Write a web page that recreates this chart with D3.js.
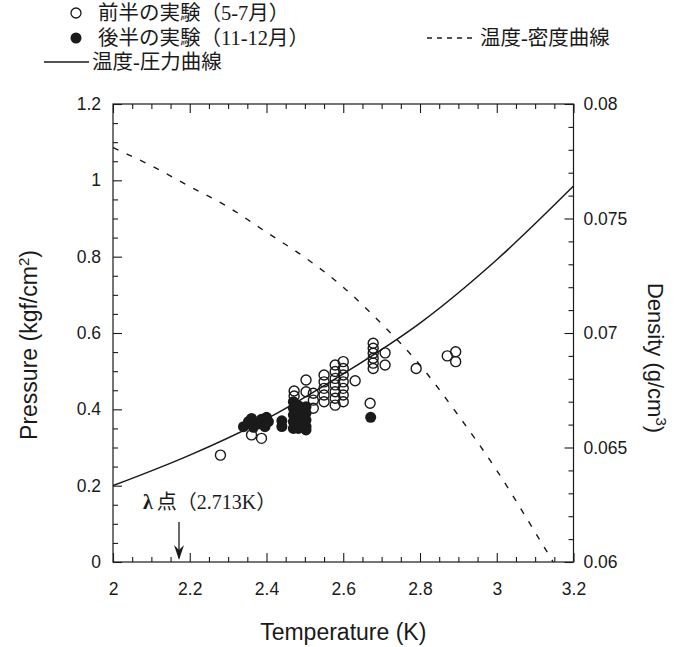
<!DOCTYPE html>
<html>
<head>
<meta charset="utf-8">
<script src="https://cdn.jsdelivr.net/npm/d3@7"></script>
<style>
  body { margin: 0; background: #ffffff; }
  svg { display: block; }
  .tick text { font-family: "Liberation Sans", Arial, sans-serif; font-size: 17.5px; fill: #1a1a1a; }
  .tick line { stroke: #1a1a1a; stroke-width: 1.1; }
</style>
</head>
<body>
<svg id="chart" width="679" height="647"></svg>
<script>
// Temperature–pressure curve (left axis, kgf/cm2)
const curveTemp = [2.0, 2.2, 2.4, 2.6, 2.8, 3.0, 3.2];
const curvePressure = [0.20, 0.28, 0.375, 0.493, 0.626, 0.792, 0.985];

// Temperature–density curve (right axis, g/cm3)
const densTemp = [2.0, 2.1, 2.2, 2.3, 2.4, 2.5, 2.6, 2.7, 2.8, 2.9, 3.0, 3.1, 3.147];
const densValue = [0.0781, 0.0773, 0.0764, 0.0755, 0.0744, 0.0733, 0.0720, 0.0704, 0.0686, 0.0664, 0.0640, 0.0613, 0.0600];

// First-half experiments (May–July), open circles
const earlyTemp = [2.28, 2.361, 2.387, 2.472, 2.472, 2.503, 2.503, 2.522, 2.522, 2.522,
  2.55, 2.55, 2.55, 2.55, 2.55,
  2.579, 2.579, 2.579, 2.579, 2.579, 2.579, 2.579,
  2.60, 2.60, 2.60, 2.60, 2.60, 2.60, 2.60,
  2.631, 2.678, 2.678, 2.678, 2.678, 2.678, 2.678,
  2.709, 2.709, 2.67, 2.79, 2.871, 2.893, 2.893];
const earlyPressure = [0.28, 0.333, 0.324, 0.448, 0.435, 0.477, 0.446, 0.442, 0.424, 0.403,
  0.49, 0.472, 0.455, 0.4375, 0.42,
  0.516, 0.499, 0.481, 0.464, 0.446, 0.429, 0.411,
  0.525, 0.507, 0.49, 0.472, 0.455, 0.4375, 0.42,
  0.475, 0.573, 0.56, 0.547, 0.534, 0.521, 0.507,
  0.548, 0.516, 0.416, 0.507, 0.54, 0.551, 0.525];

// Second-half experiments (Nov–Dec), filled circles
const lateTemp = [2.34, 2.353, 2.361, 2.366, 2.381, 2.387, 2.40, 2.396, 2.405,
  2.44, 2.44,
  2.47, 2.47, 2.47, 2.47, 2.47,
  2.483, 2.483, 2.483, 2.483,
  2.503, 2.503, 2.503, 2.503, 2.503,
  2.6715];
const latePressure = [0.3545, 0.368, 0.376, 0.353, 0.362, 0.374, 0.379, 0.3545, 0.368,
  0.37, 0.355,
  0.42, 0.403, 0.385, 0.368, 0.35,
  0.41, 0.39, 0.37, 0.35,
  0.407, 0.39, 0.372, 0.355, 0.346,
  0.379];

// Axis ticks and labels
const tempMajor = [2, 2.2, 2.4, 2.6, 2.8, 3, 3.2];
const tempLabels = ["2", "2.2", "2.4", "2.6", "2.8", "3", "3.2"];
const pressMajor = [0, 0.2, 0.4, 0.6, 0.8, 1, 1.2];
const pressLabels = ["0", "0.2", "0.4", "0.6", "0.8", "1", "1.2"];
const densMajor = [0.06, 0.065, 0.07, 0.075, 0.08];
const densLabels = ["0.06", "0.065", "0.07", "0.075", "0.08"];

// Lambda point marker
const lambdaTemp = 2.172;
const lambdaSymbol = "λ";
const lambdaText = "点（2.713K）";

(function drawChart() {
  const svg = d3.select("#chart");
  const ink = "#1a1a1a";

  const pl = 113, pr = 573.5, pt = 104, pb = 562;
  const x = d3.scaleLinear().domain([2, 3.2]).range([pl, pr]);
  const yP = d3.scaleLinear().domain([0, 1.2]).range([pb, pt]);
  const yD = d3.scaleLinear().domain([0.06, 0.08]).range([pb, pt]);

  const seq = (a, b, s) => d3.range(Math.round((b - a) / s) + 1).map(i => +(a + i * s).toFixed(4));
  const tempMinor = seq(2, 3.2, 0.05).filter(v => !tempMajor.some(m => Math.abs(m - v) < 1e-6));
  const pressMinor = seq(0, 1.2, 0.05).filter(v => !pressMajor.some(m => Math.abs(m - v) < 1e-6));
  const densMinor = seq(0.06, 0.08, 0.001).filter(v => !densMajor.some(m => Math.abs(m - v) < 1e-7));

  function addAxis(axis, tx, ty) {
    const g = svg.append("g").attr("transform", `translate(${tx},${ty})`).call(axis);
    g.select(".domain").remove();
    return g;
  }

  // bottom
  addAxis(d3.axisBottom(x).tickValues(tempMinor).tickSize(-5).tickFormat(""), 0, pb);
  addAxis(d3.axisBottom(x).tickValues(tempMajor).tickSize(-9).tickPadding(21)
    .tickFormat((d, i) => tempLabels[i]), 0, pb);
  // top
  addAxis(d3.axisTop(x).tickValues(tempMinor).tickSize(-5).tickFormat(""), 0, pt);
  addAxis(d3.axisTop(x).tickValues(tempMajor).tickSize(-9).tickFormat(""), 0, pt);
  // left
  addAxis(d3.axisLeft(yP).tickValues(pressMinor).tickSize(-5).tickFormat(""), pl, 0);
  addAxis(d3.axisLeft(yP).tickValues(pressMajor).tickSize(-9).tickPadding(12)
    .tickFormat((d, i) => pressLabels[i]), pl, 0);
  // right
  addAxis(d3.axisRight(yD).tickValues(densMinor).tickSize(-5).tickFormat(""), pr, 0);
  addAxis(d3.axisRight(yD).tickValues(densMajor).tickSize(-9).tickPadding(10)
    .tickFormat((d, i) => densLabels[i]), pr, 0);

  // frame
  svg.append("rect")
    .attr("x", pl).attr("y", pt)
    .attr("width", pr - pl).attr("height", pb - pt)
    .attr("fill", "none").attr("stroke", ink).attr("stroke-width", 1.2);

  // axis titles
  const titleFont = '"Liberation Sans", Arial, sans-serif';
  svg.append("text")
    .attr("x", (pl + pr) / 2).attr("y", 640)
    .attr("text-anchor", "middle")
    .attr("font-family", titleFont).attr("font-size", 23).attr("fill", ink)
    .text("Temperature (K)");

  const ptxt = svg.append("text")
    .attr("transform", "translate(37,345) rotate(-90)")
    .attr("text-anchor", "middle")
    .attr("font-family", titleFont).attr("font-size", 23).attr("fill", ink);
  ptxt.append("tspan").text("Pressure (kgf/cm");
  ptxt.append("tspan").attr("dy", -8).attr("font-size", 15).text("2");
  ptxt.append("tspan").attr("dy", 8).text(")");

  const dtxt = svg.append("text")
    .attr("transform", "translate(648,358) rotate(90)")
    .attr("text-anchor", "middle")
    .attr("font-family", titleFont).attr("font-size", 22).attr("fill", ink);
  dtxt.append("tspan").text("Density (g/cm");
  dtxt.append("tspan").attr("dy", -8).attr("font-size", 15).text("3");
  dtxt.append("tspan").attr("dy", 8).text(")");

  // clip to the plot frame
  svg.append("clipPath").attr("id", "plotClip")
    .append("rect").attr("x", pl).attr("y", pt).attr("width", pr - pl).attr("height", pb - pt);
  const plot = svg.append("g").attr("clip-path", "url(#plotClip)");

  // temperature–density curve (dashed)
  const densPts = densTemp.map((t, i) => [t, densValue[i]]);
  plot.append("path")
    .attr("d", d3.line().x(d => x(d[0])).y(d => yD(d[1])).curve(d3.curveMonotoneX)(densPts))
    .attr("fill", "none").attr("stroke", ink).attr("stroke-width", 1.4)
    .attr("stroke-dasharray", "6,9");

  // temperature–pressure curve (solid)
  const pressPts = curveTemp.map((t, i) => [t, curvePressure[i]]);
  plot.append("path")
    .attr("d", d3.line().x(d => x(d[0])).y(d => yP(d[1])).curve(d3.curveMonotoneX)(pressPts))
    .attr("fill", "none").attr("stroke", ink).attr("stroke-width", 1.5);

  // data points
  const r = 5;
  plot.append("g").selectAll("circle")
    .data(earlyTemp.map((t, i) => [t, earlyPressure[i]]))
    .join("circle")
    .attr("cx", d => x(d[0])).attr("cy", d => yP(d[1])).attr("r", r)
    .attr("fill", "none").attr("stroke", ink).attr("stroke-width", 1.4);
  plot.append("g").selectAll("circle")
    .data(lateTemp.map((t, i) => [t, latePressure[i]]))
    .join("circle")
    .attr("cx", d => x(d[0])).attr("cy", d => yP(d[1])).attr("r", r + 0.5)
    .attr("fill", ink).attr("stroke", "none");

  // lambda point annotation
  const serif = '"Liberation Serif", "Times New Roman", "Noto Sans CJK JP", serif';
  const lx = x(lambdaTemp);
  const lt = svg.append("text")
    .attr("x", lx - 36).attr("y", 509)
    .attr("font-family", serif).attr("font-size", 20).attr("fill", ink);
  lt.append("tspan").attr("font-weight", "bold").text(lambdaSymbol);
  lt.append("tspan").attr("dx", 4).text(lambdaText);
  svg.append("line")
    .attr("x1", lx).attr("x2", lx).attr("y1", 522).attr("y2", 558)
    .attr("stroke", ink).attr("stroke-width", 1.3);
  svg.append("path")
    .attr("d", `M${lx - 5},${545} L${lx},${560} L${lx + 5},${545} L${lx},${550} Z`)
    .attr("fill", ink);

  // legend
  const legend = svg.append("g");
  const rows = [13, 38, 62];
  const lfs = 20.5;
  legend.append("circle").attr("cx", 76).attr("cy", rows[0]).attr("r", 5)
    .attr("fill", "none").attr("stroke", ink).attr("stroke-width", 1.3);
  legend.append("text").attr("x", 98).attr("y", rows[0] + 7)
    .attr("font-family", serif).attr("font-size", lfs).attr("fill", ink)
    .text("前半の実験（5-7月）");
  legend.append("circle").attr("cx", 76).attr("cy", rows[1]).attr("r", 5.5)
    .attr("fill", ink);
  legend.append("text").attr("x", 98).attr("y", rows[1] + 7)
    .attr("font-family", serif).attr("font-size", lfs).attr("fill", ink)
    .text("後半の実験（11-12月）");
  legend.append("line").attr("x1", 427).attr("x2", 477).attr("y1", rows[1]).attr("y2", rows[1])
    .attr("stroke", ink).attr("stroke-width", 1.3).attr("stroke-dasharray", "5,5");
  legend.append("text").attr("x", 480).attr("y", rows[1] + 7)
    .attr("font-family", serif).attr("font-size", lfs).attr("fill", ink)
    .text("温度-密度曲線");
  legend.append("line").attr("x1", 44).attr("x2", 89).attr("y1", rows[2]).attr("y2", rows[2])
    .attr("stroke", ink).attr("stroke-width", 1.4);
  legend.append("text").attr("x", 92).attr("y", rows[2] + 7)
    .attr("font-family", serif).attr("font-size", lfs).attr("fill", ink)
    .text("温度-圧力曲線");
})();
</script>
</body>
</html>
